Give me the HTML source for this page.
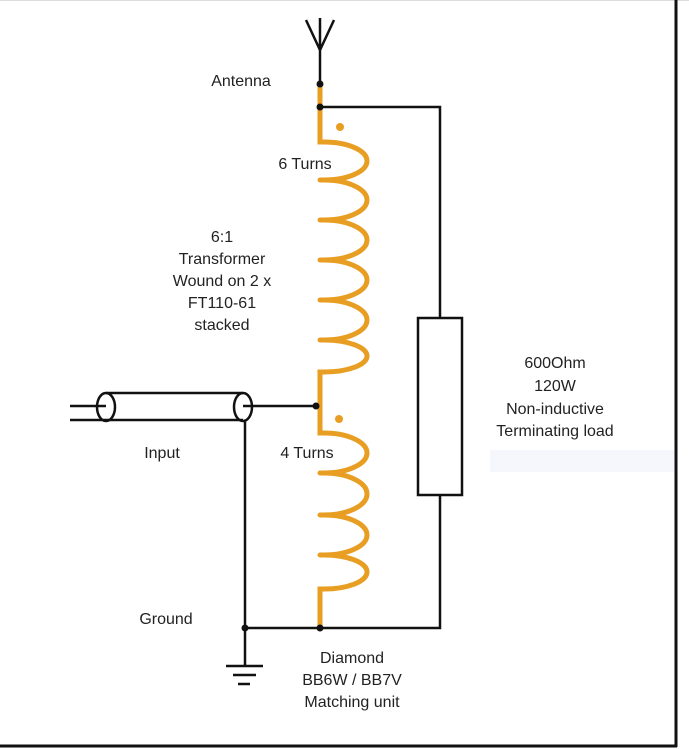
<!DOCTYPE html>
<html><head><style>
html,body{margin:0;padding:0;background:#fff;}
svg{display:block;}
text{font-family:"Liberation Sans",Arial,sans-serif;font-size:16px;fill:#222;text-anchor:middle;}
</style></head><body>
<svg width="689" height="749" viewBox="0 0 689 749" xmlns="http://www.w3.org/2000/svg">
<rect x="0" y="0" width="689" height="749" fill="#fff"/>
<line x1="0" y1="0.5" x2="689" y2="0.5" stroke="#ddd"/>
<rect x="490" y="450" width="184" height="22" fill="#f5f7fc"/>
<line x1="676" y1="0" x2="676" y2="747" stroke="#111" stroke-width="3"/>
<line x1="0" y1="746" x2="677" y2="746" stroke="#111" stroke-width="3"/>
<g stroke="#111" stroke-width="2.5" fill="none">
<line x1="320" y1="84" x2="320" y2="48"/>
<path d="M306,20 L320,50 L334,20 M320,50 L320,18"/>
<path d="M320,107 H440 V318 M440,495 V628 H245"/>
<rect x="418" y="318" width="44" height="177"/>
<path d="M70,406 H106 M70,420 H106 M106,393 H243 M106,420 H243 M243,406 H318"/>
<ellipse cx="106" cy="407" rx="9" ry="14"/>
<ellipse cx="243" cy="407" rx="9" ry="14"/>
<line x1="245" y1="420" x2="245" y2="666"/>
<line x1="226" y1="666" x2="263" y2="666"/>
<line x1="233" y1="675" x2="256" y2="675"/>
<line x1="238" y1="684" x2="250" y2="684"/>
</g>
<g stroke="#E89E22" stroke-width="5" fill="none" stroke-linecap="round">
<path d="M320,86 V142 H324 A43,19 0 0 1 324,180 H320 M320,180 H324 A43,20 0 0 1 324,220 H320 M320,220 H324 A43,20 0 0 1 324,260 H320 M320,260 H324 A43,20 0 0 1 324,300 H320 M320,300 H324 A43,20 0 0 1 324,340 H320 M320,340 H324 A43,16 0 0 1 324,372 H320 V433 H324 A43,20 0 0 1 324,473 H320 M320,473 H324 A43,21 0 0 1 324,515 H320 M320,515 H324 A43,20 0 0 1 324,555 H320 M320,555 H324 A43,17 0 0 1 324,589 H320 V628"/>
</g>
<circle cx="340" cy="127" r="4" fill="#E89E22"/>
<circle cx="339" cy="419" r="4" fill="#E89E22"/>
<g fill="#111">
<circle cx="320" cy="84" r="3.5"/>
<circle cx="320" cy="107" r="3.5"/>
<circle cx="316" cy="406" r="3.5"/>
<circle cx="245" cy="628" r="3.5"/>
<circle cx="320" cy="628" r="3.5"/>
</g>
<text x="241" y="86">Antenna</text>
<text x="305" y="169">6 Turns</text>
<text x="222" y="242">6:1</text>
<text x="222" y="264">Transformer</text>
<text x="222" y="286">Wound on 2 x</text>
<text x="222" y="308">FT110-61</text>
<text x="222" y="330">stacked</text>
<text x="555" y="368">600Ohm</text>
<text x="555" y="391">120W</text>
<text x="555" y="414">Non-inductive</text>
<text x="555" y="436">Terminating load</text>
<text x="162" y="458">Input</text>
<text x="307" y="458">4 Turns</text>
<text x="166" y="624">Ground</text>
<text x="352" y="663">Diamond</text>
<text x="352" y="685">BB6W / BB7V</text>
<text x="352" y="707">Matching unit</text>
</svg>
</body></html>
